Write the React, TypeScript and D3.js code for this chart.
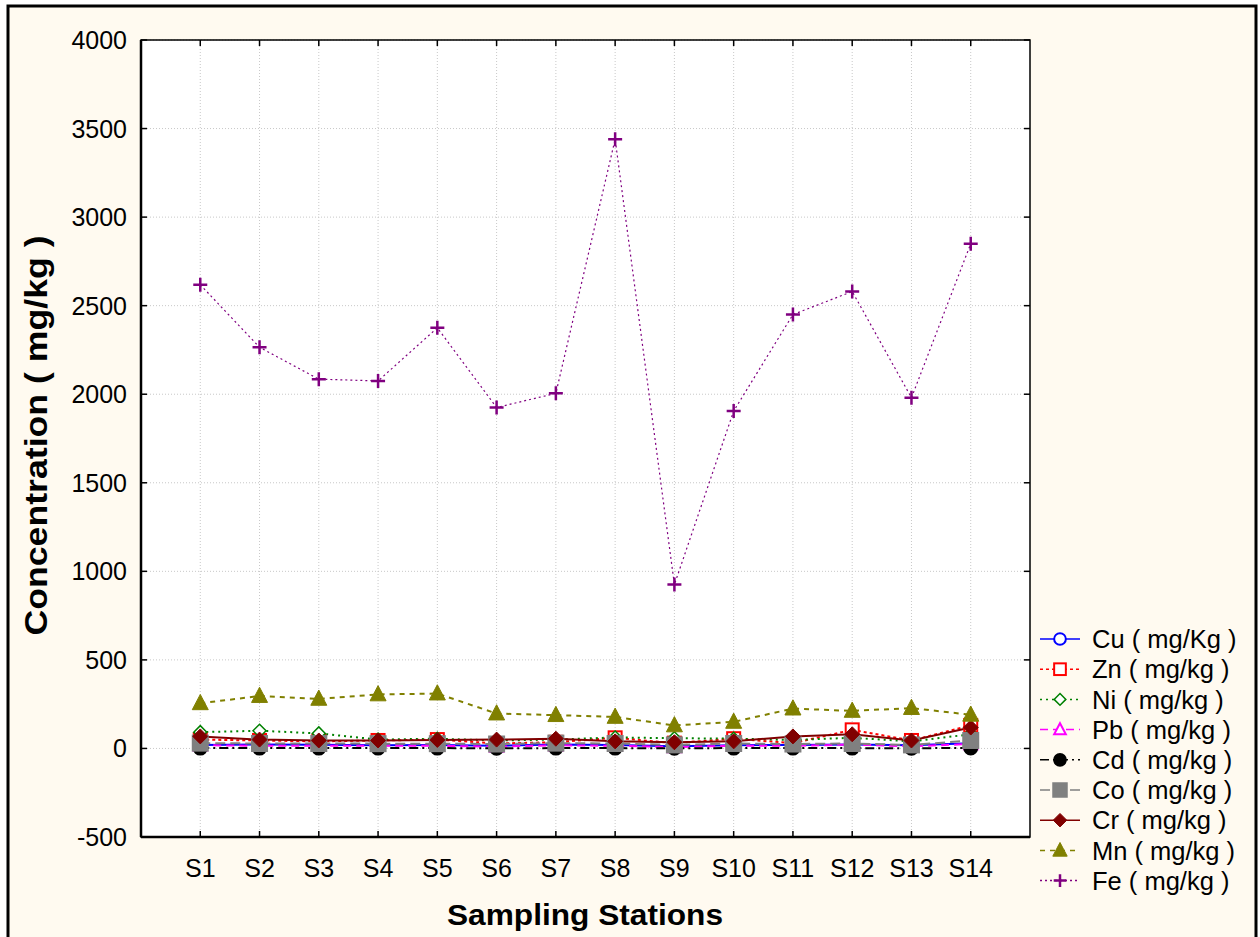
import React from "react";
import * as d3 from "d3";

const stations = ["S1", "S2", "S3", "S4", "S5", "S6", "S7", "S8", "S9", "S10", "S11", "S12", "S13", "S14"];
const yTicks = [-500, 0, 500, 1000, 1500, 2000, 2500, 3000, 3500, 4000];

const cu = [20, 22, 21, 18, 20, 15, 22, 20, 12, 18, 20, 22, 18, 30];
const zn = [50, 45, 40, 45, 50, 28, 35, 60, 30, 55, 30, 105, 45, 130];
const ni = [92, 100, 85, 50, 55, 45, 50, 62, 58, 55, 48, 60, 40, 80];
const pb = [18, 15, 16, 15, 15, 10, 18, 15, 8, 15, 15, 22, 12, 25];
const cd = [2, 2, 2, 2, 2, 1, 2, 2, 1, 2, 2, 2, 1, 3];
const co = [30, 28, 28, 27, 27, 25, 30, 28, 20, 28, 25, 28, 20, 45];
const cr = [68, 50, 45, 45, 48, 50, 55, 40, 35, 40, 68, 80, 45, 118];
const mn = [255, 296, 280, 305, 310, 197, 188, 178, 130, 150, 225, 212, 228, 190];
const fe = [2618, 2265, 2085, 2075, 2375, 1925, 2005, 3440, 925, 1905, 2450, 2580, 1980, 2850];

type Marker = "circle" | "square" | "diamond" | "triangle" | "plus";

const series = [
  { name: "Cu ( mg/Kg )", values: cu, color: "#0000ff", dash: "", marker: "circle" as Marker, fill: false },
  { name: "Zn ( mg/kg )", values: zn, color: "#ff0000", dash: "3,3", marker: "square" as Marker, fill: false },
  { name: "Ni ( mg/kg )", values: ni, color: "#008000", dash: "2,4", marker: "diamond" as Marker, fill: false },
  { name: "Pb ( mg/kg )", values: pb, color: "#ff00ff", dash: "8,5", marker: "triangle" as Marker, fill: false },
  { name: "Cd ( mg/kg )", values: cd, color: "#000000", dash: "9,4,2,4", marker: "circle" as Marker, fill: true },
  { name: "Co ( mg/kg )", values: co, color: "#808080", dash: "10,5", marker: "square" as Marker, fill: true },
  { name: "Cr ( mg/kg )", values: cr, color: "#800000", dash: "", marker: "diamond" as Marker, fill: true },
  { name: "Mn ( mg/kg )", values: mn, color: "#808000", dash: "5,5", marker: "triangle" as Marker, fill: true },
  { name: "Fe ( mg/kg )", values: fe, color: "#800080", dash: "2,3", marker: "plus" as Marker, fill: false },
];

const left = 141;
const right = 1030;
const top = 40;
const bottom = 837;

function Symbol({ type, x, y, color, fill, k = 1 }: { type: Marker; x: number; y: number; color: string; fill: boolean; k?: number }) {
  const f = fill ? color : "#fff";
  if (type === "circle") return <circle cx={x} cy={y} r={6.5 * k} fill={f} stroke={color} strokeWidth={2} />;
  if (type === "square") {
    const s = (fill ? 15 : 13) * k;
    return <rect x={x - s / 2} y={y - s / 2} width={s} height={s} fill={f} stroke={color} strokeWidth={2} />;
  }
  if (type === "diamond") {
    const s = (fill ? 7.5 : 6.5) * k;
    return <path d={`M${x},${y - s}L${x + s},${y}L${x},${y + s}L${x - s},${y}Z`} fill={f} stroke={color} strokeWidth={fill ? 1 : 1.5} />;
  }
  if (type === "triangle") {
    const s = (fill ? 8 : 6.5) * k;
    return <path d={`M${x},${y - s * 1.1}L${x + s},${y + s * 0.8}L${x - s},${y + s * 0.8}Z`} fill={f} stroke={color} strokeWidth={fill ? 1 : 2} />;
  }
  const p = 7 * k;
  return <path d={`M${x - p},${y}H${x + p}M${x},${y - p}V${y + p}`} stroke={color} strokeWidth={2.5} />;
}

export default function App() {
  const x = d3.scalePoint<string>().domain(stations).range([left, right]).padding(1);
  const y = d3.scaleLinear().domain([-500, 4000]).range([bottom, top]);
  const line = d3
    .line<number>()
    .x((_, i) => x(stations[i]) as number)
    .y((d) => y(d));

  const font = "'Liberation Sans', Arial, sans-serif";

  return (
    <svg width={1260} height={937} style={{ position: "absolute", left: 0, top: 0 }} fontFamily={font}>
      <rect x={0} y={0} width={1260} height={937} fill="#fff" />
      <rect x={8} y={6} width={1248} height={940} fill="#fffaf0" stroke="#000" strokeWidth={3} />
      <rect x={left} y={top} width={right - left} height={bottom - top} fill="#fff" />

      {/* grid */}
      {yTicks.map((t) => (
        <line key={"gy" + t} x1={left} x2={right} y1={y(t)} y2={y(t)} stroke="#c8c8c8" strokeDasharray="1,2" />
      ))}
      {stations.map((s) => (
        <line key={"gx" + s} x1={x(s)} x2={x(s)} y1={top} y2={bottom} stroke="#c8c8c8" strokeDasharray="1,2" />
      ))}

      {/* lines */}
      {series.map((s) => (
        <path
          key={"l" + s.name}
          d={line(s.values) || ""}
          fill="none"
          stroke={s.color}
          strokeWidth={s.marker === "plus" ? 1.2 : 2}
          strokeDasharray={s.dash || undefined}
        />
      ))}
      {/* markers */}
      {series.map((s) =>
        s.values.map((v, i) => (
          <Symbol key={s.name + i} type={s.marker} x={x(stations[i]) as number} y={y(v)} color={s.color} fill={s.fill} />
        ))
      )}

      {/* frame and ticks */}
      <rect x={left} y={top} width={right - left} height={bottom - top} fill="none" stroke="#000" strokeWidth={1.5} />
      <line x1={left} x2={left} y1={top} y2={bottom} stroke="#000" strokeWidth={2.5} />
      <line x1={left} x2={right} y1={bottom} y2={bottom} stroke="#000" strokeWidth={2.5} />
      {yTicks.map((t) => (
        <g key={"ty" + t}>
          <line x1={left} x2={left + 6} y1={y(t)} y2={y(t)} stroke="#000" strokeWidth={1.5} />
          <line x1={right - 6} x2={right} y1={y(t)} y2={y(t)} stroke="#000" strokeWidth={1.5} />
          <text x={127} y={y(t)} dy="0.36em" textAnchor="end" fontSize={25}>
            {t}
          </text>
        </g>
      ))}
      {stations.map((s) => (
        <g key={"tx" + s}>
          <line x1={x(s)} x2={x(s)} y1={bottom} y2={bottom - 6} stroke="#000" strokeWidth={1.5} />
          <line x1={x(s)} x2={x(s)} y1={top} y2={top + 6} stroke="#000" strokeWidth={1.5} />
          <text x={x(s)} y={868} dy="0.36em" textAnchor="middle" fontSize={25}>
            {s}
          </text>
        </g>
      ))}

      <text x={585} y={914} dy="0.36em" textAnchor="middle" fontSize={30} fontWeight="bold" textLength={276} lengthAdjust="spacingAndGlyphs">
        Sampling Stations
      </text>
      <text
        transform={`translate(36, ${(top + bottom) / 2 - 3}) rotate(-90)`}
        dy="0.36em"
        textAnchor="middle"
        fontSize={31}
        fontWeight="bold"
        textLength={400}
        lengthAdjust="spacingAndGlyphs"
      >
        Concentration ( mg/kg )
      </text>

      {/* legend */}
      {series.map((s, i) => {
        const ly = 639 + i * 30.2;
        return (
          <g key={"lg" + s.name}>
            <line x1={1040} x2={1080} y1={ly} y2={ly} stroke={s.color} strokeWidth={1.5} strokeDasharray={s.dash || undefined} />
            <Symbol type={s.marker} x={1060} y={ly} color={s.color} fill={s.fill} k={0.9} />
            <text x={1092} y={ly} dy="0.36em" fontSize={25.5}>
              {s.name}
            </text>
          </g>
        );
      })}
    </svg>
  );
}
